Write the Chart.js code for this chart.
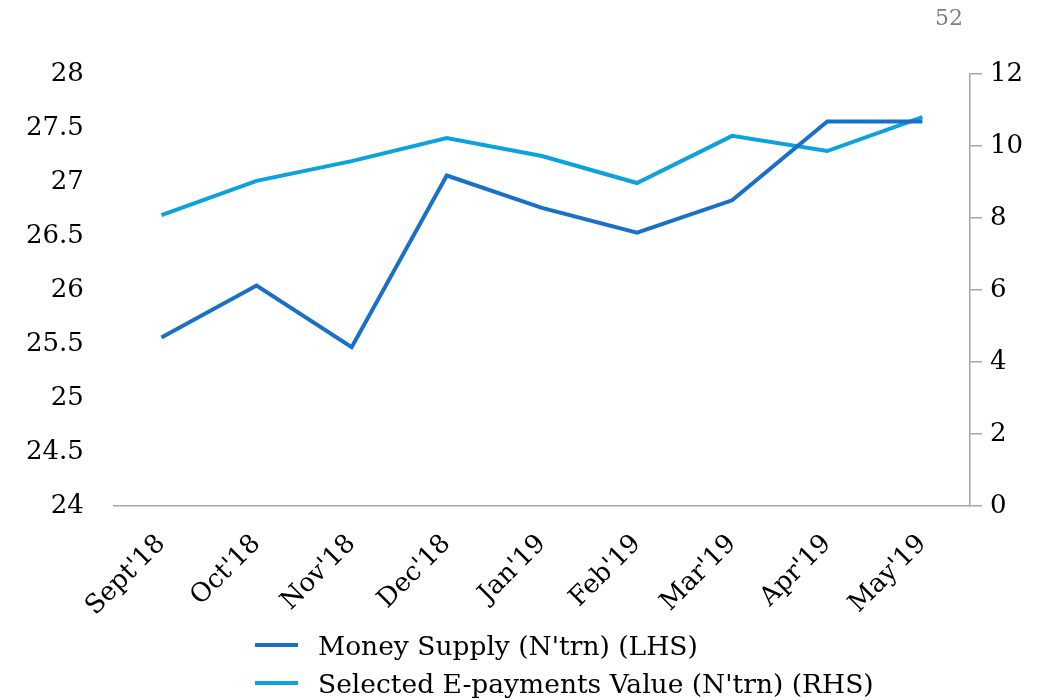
<!DOCTYPE html>
<html lang="en">
<head>
  <meta charset="UTF-8" />
  <title>Money Supply vs E-payments</title>
  <script src="https://cdn.jsdelivr.net/npm/chart.js"></script>
  <style>
    body {
      margin: 0;
      background: #fff;
      font-family: "DejaVu Serif", serif;
    }
    .wrap {
      position: relative;
      width: 1050px;
      height: 700px;
    }
    #pageNo {
      position: absolute;
      left: 935px;
      top: 5px;
      font-size: 22px;
      color: #7f7f7f;
    }
    #legend {
      position: absolute;
      left: 255px;
      top: 626px;
      font-size: 26.5px;
      color: #000;
    }
    .item {
      display: flex;
      align-items: center;
      height: 38px;
    }
    .swatch {
      width: 43px;
      height: 4px;
      margin-right: 20px;
    }
  </style>
</head>
<body>
  <div class="wrap">
    <canvas id="chart"></canvas>
    <div id="pageNo">52</div>
    <div id="legend"></div>
  </div>

  <script>
    const months = ["Sept'18", "Oct'18", "Nov'18", "Dec'18", "Jan'19", "Feb'19", "Mar'19", "Apr'19", "May'19"];
    const moneySupply = [25.56, 26.04, 25.47, 27.06, 26.76, 26.53, 26.83, 27.56, 27.56]; // N'trn, LHS
    const ePayments = [8.08, 9.03, 9.58, 10.22, 9.72, 8.97, 10.28, 9.86, 10.80];      // N'trn, RHS
    const lhsTicks = { min: 24, max: 28, step: 0.5 };
    const rhsTicks = { min: 0, max: 12, step: 2 };

    const tickFont = { family: 'DejaVu Serif', size: 26 };
    const axisGrey = '#a6a6a6';

    const chart = new Chart(document.getElementById('chart'), {
      type: 'line',
      data: {
        labels: months,
        datasets: [
          {
            label: "Money Supply (N'trn) (LHS)",
            data: moneySupply,
            borderColor: '#1a70c6',
            borderWidth: 4,
            pointRadius: 0,
            tension: 0,
            yAxisID: 'y'
          },
          {
            label: "Selected E-payments Value (N'trn) (RHS)",
            data: ePayments,
            borderColor: '#0ca2dc',
            borderWidth: 4,
            pointRadius: 0,
            tension: 0,
            yAxisID: 'y1'
          }
        ]
      },
      options: {
        responsive: true,
        maintainAspectRatio: false,
        animation: false,
        layout: { padding: { top: 74, left: -4, right: 19, bottom: 55 } },
        plugins: {
          legend: { display: false },
          tooltip: { enabled: false }
        },
        scales: {
          x: {
            offset: true,
            grid: { display: false, drawTicks: false },
            border: { display: true, color: axisGrey, width: 1.5 },
            ticks: { font: tickFont, color: '#000', minRotation: 45, maxRotation: 45, padding: 23 }
          },
          y: {
            position: 'left',
            min: lhsTicks.min,
            max: lhsTicks.max,
            grid: { display: false, drawTicks: false },
            border: { display: false },
            ticks: {
              font: tickFont, color: '#000', stepSize: lhsTicks.step, padding: 30,
              callback: v => String(+v)
            }
          },
          y1: {
            position: 'right',
            min: rhsTicks.min,
            max: rhsTicks.max,
            grid: { drawOnChartArea: false, drawTicks: true, tickLength: 12, color: axisGrey, lineWidth: 1.5 },
            border: { display: true, color: axisGrey, width: 1.5 },
            ticks: { font: tickFont, color: '#000', stepSize: rhsTicks.step, padding: 8 }
          }
        }
      }
    });

    // legend below the plot, one entry per line
    const legend = document.getElementById('legend');
    chart.data.datasets.forEach(ds => {
      const row = document.createElement('div');
      row.className = 'item';
      const sw = document.createElement('span');
      sw.className = 'swatch';
      sw.style.background = ds.borderColor;
      const txt = document.createElement('span');
      txt.textContent = ds.label;
      row.appendChild(sw);
      row.appendChild(txt);
      legend.appendChild(row);
    });
  </script>
</body>
</html>
